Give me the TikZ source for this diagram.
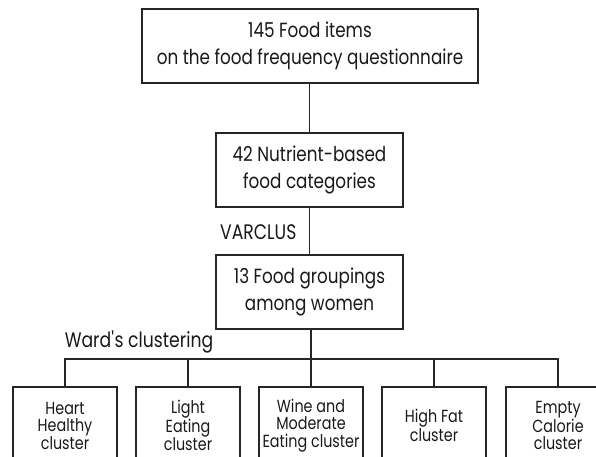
\documentclass[tikz,border=0pt]{standalone}
\usepackage{fontspec}
\setmainfont{Poppins}[FakeStretch=0.82]
\begin{document}
\begin{tikzpicture}[x=1pt,y=-1pt,
  box/.style={draw=black!85, line width=1.2pt, inner sep=0pt, align=center, text=black!90},
  bigtxt/.style={font=\fontsize{20.5}{27}\selectfont},
  smalltxt/.style={font=\fontsize{17.5}{17.5}\selectfont},
  line/.style={draw=black!85, line width=1.1pt},
  lbl/.style={inner sep=0pt, text=black!90, font=\fontsize{21}{22}\selectfont}]
\clip (0,0) rectangle (596,457);
\useasboundingbox (0,0) rectangle (596,457);
\node[box,bigtxt,minimum width=336pt,minimum height=74pt] (top) at (310,46)
  {145 Food items\\on the food frequency questionnaire};
\node[box,bigtxt,minimum width=187pt,minimum height=74pt] (mid) at (309.5,170)
  {42 Nutrient-based\\food categories};
\node[box,bigtxt,minimum width=187pt,minimum height=74pt] (grp) at (309.5,292)
  {13 Food groupings\\among women};
\foreach \n/\cx/\t in {b1/65/{Heart\\Healthy\\cluster},
                       b2/188/{Light\\Eating\\cluster},
                       b3/311/{Wine and\\Moderate\\Eating cluster},
                       b4/434/{High Fat\\cluster},
                       b5/558/{Empty\\Calorie\\cluster}}
  \node[box,smalltxt,minimum width=104pt,minimum height=77pt] (\n) at (\cx,425.5) {\t};
\coordinate (bus) at (311,359);
\node[lbl,anchor=west] (varclus) at (220,232) {VARCLUS};
\node[lbl] (ward) at (139,342) {Ward\textquotesingle s clustering};
\draw[line] (top.south -| mid.north) -- (mid.north);
\draw[line] (mid) -- (grp);
\draw[line] (grp.south -| b3.north) -- (b3.north);
\draw[line] (b1.north) |- (bus) -| (b5.north);
\draw[line] (b2.north) -- (b2.north |- bus);
\draw[line] (b4.north) -- (b4.north |- bus);
\end{tikzpicture}
\end{document}
